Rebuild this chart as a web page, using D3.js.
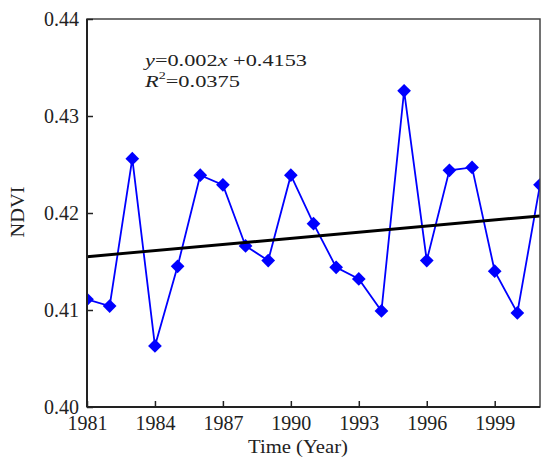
<!DOCTYPE html>
<html><head><meta charset="utf-8">
<script src="https://cdn.jsdelivr.net/npm/d3@7"></script>
<style>body{margin:0;background:#fff}svg{display:block}</style>
</head><body>
<svg id="c" width="542" height="461"></svg>
<script>
const years = [1981,1982,1983,1984,1985,1986,1987,1988,1989,1990,1991,1992,1993,1994,1995,1996,1997,1998,1999,2000,2001];
const ndvi = [0.4111,0.4104,0.4256,0.4063,0.4145,0.4239,0.4229,0.4166,0.4151,0.4239,0.4189,0.4144,0.4132,0.4099,0.4326,0.4151,0.4244,0.4247,0.4140,0.4097,0.4229];
const trendYears = [1981, 2001];
const trendValues = [0.4155, 0.4197];
const xTicks = [1981,1984,1987,1990,1993,1996,1999];
const yTicks = [0.40,0.41,0.42,0.43,0.44];

const svg = d3.select('#c');
const L = 87, R = 540, T = 19, B = 407;
const x = d3.scaleLinear().domain([1981, 2001]).range([L, R]);
const y = d3.scaleLinear().domain([0.40, 0.44]).range([B, T]);
const font = '"Liberation Serif","Times New Roman",serif';

const g = svg.append('g');
svg.append('clipPath').attr('id','cp').append('rect')
  .attr('x', L).attr('y', T).attr('width', R - L).attr('height', B - T);

// data line
const plot = g.append('g').attr('clip-path','url(#cp)');
plot.append('path').datum(years.map((d,i)=>[d, ndvi[i]]))
  .attr('fill','none').attr('stroke','#0000ff').attr('stroke-width',1.8)
  .attr('d', d3.line().x(d=>x(d[0])).y(d=>y(d[1])));
plot.selectAll('path.m').data(years.map((d,i)=>[d, ndvi[i]])).join('path')
  .attr('class','m')
  .attr('transform', d=>`translate(${x(d[0])},${y(d[1])})`)
  .attr('d', d3.symbol(d3.symbolDiamond2, 120)())
  .attr('fill','#0000ff');
// trend line
plot.append('path').datum(trendYears.map((d,i)=>[d, trendValues[i]]))
  .attr('fill','none').attr('stroke','#000').attr('stroke-width',3)
  .attr('d', d3.line().x(d=>x(d[0])).y(d=>y(d[1])));

// frame
g.append('rect').attr('x', L).attr('y', T).attr('width', R - L).attr('height', B - T)
  .attr('fill','none').attr('stroke','#444').attr('stroke-width',1.5);
g.append('line').attr('x1',L).attr('x2',L).attr('y1',T).attr('y2',B).attr('stroke','#222').attr('stroke-width',2);
g.append('line').attr('x1',L).attr('x2',R).attr('y1',B).attr('y2',B).attr('stroke','#222').attr('stroke-width',2);

// axes
const xa = g.append('g').attr('transform',`translate(0,${B})`)
  .call(d3.axisBottom(x).tickValues(xTicks).tickFormat(d3.format('d')).tickSizeInner(-6).tickSizeOuter(0).tickPadding(9));
const ya = g.append('g').attr('transform',`translate(${L},0)`)
  .call(d3.axisLeft(y).tickValues(yTicks).tickFormat(d3.format('.2f')).tickSizeInner(-6).tickSizeOuter(0).tickPadding(8));
[xa, ya].forEach(a => {
  a.select('.domain').remove();
  a.selectAll('.tick line').attr('stroke','#222').attr('stroke-width',1.5);
  a.selectAll('.tick text').attr('font-family', font).attr('font-size', 20).attr('fill','#222');
});
xa.selectAll('.tick text').attr('dy','0.71em');

// axis titles
g.append('text').attr('x', 298).attr('y', 453).attr('text-anchor','middle')
  .attr('font-family', font).attr('font-size', 19).attr('fill','#222')
  .attr('textLength', 100).attr('lengthAdjust','spacingAndGlyphs').text('Time (Year)');
g.append('text').attr('transform','translate(24,212) rotate(-90)').attr('text-anchor','middle')
  .attr('font-family', font).attr('font-size', 19).attr('fill','#222')
  .attr('textLength', 51).attr('lengthAdjust','spacingAndGlyphs').text('NDVI');

// equation
const eq = g.append('text').attr('x', 145).attr('y', 66).attr('font-family', font).attr('font-size', 17.5).attr('fill','#222')
  .attr('textLength', 162).attr('lengthAdjust','spacingAndGlyphs');
eq.append('tspan').attr('font-style','italic').text('y');
eq.append('tspan').text('=0.002');
eq.append('tspan').attr('font-style','italic').text('x');
eq.append('tspan').text(' +0.4153');
const r2 = g.append('text').attr('x', 145).attr('y', 87).attr('font-family', font).attr('font-size', 17.5).attr('fill','#222')
  .attr('textLength', 95).attr('lengthAdjust','spacingAndGlyphs');
r2.append('tspan').attr('font-style','italic').text('R');
r2.append('tspan').attr('font-size', 11).attr('dy', -8).text('2');
r2.append('tspan').attr('dy', 8).text('=0.0375');
</script>
</body></html>
